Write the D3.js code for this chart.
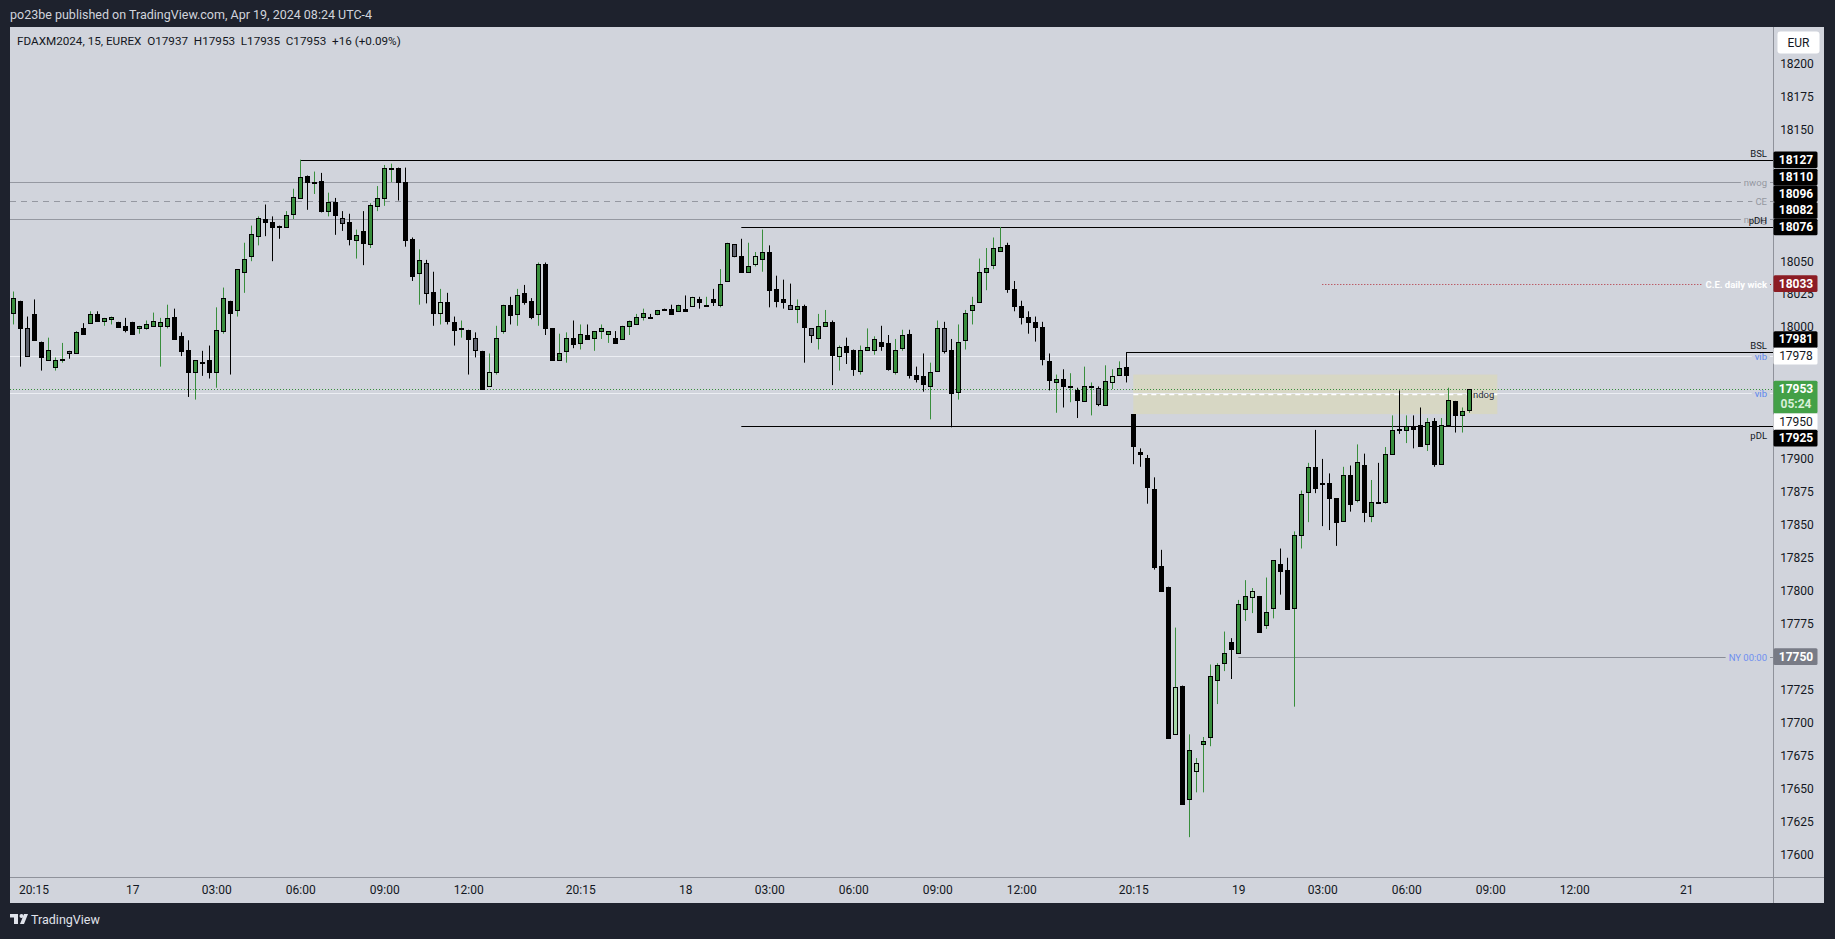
<!DOCTYPE html>
<html><head><meta charset="utf-8">
<script src="https://cdn.jsdelivr.net/npm/d3@7"></script>
<style>
html,body{margin:0;padding:0;background:#1e222d;overflow:hidden;}
svg{display:block;font-family:Roboto,"Noto Sans",sans-serif;}
</style></head><body>
<svg id="c" width="1835" height="939"></svg>
<script>
// ---------------- DATA ----------------
const opens=[18011,18020,17999,18010,17989,17975,17970,17976,17982,17980,
17999,18003,18010,18005,18006,18004,18001,18004,17999,17999,
18001,18001,18001,18008,17993,17983,17966,17973.5,17975,17966,
17997,18020,18013,18042,18054,18069,18082,18080,18077,18076,
18086,18098,18115,18110,18111,18088,18095,18083,18080,18066,
18073,18063,18092,18098,18120,18121,18110,18067,18041,18049,
18027,18011,18019,18004,17999,17998,17992,17982,17955,17966,
17997,18017,18010,18026,18020,18010,18048,17999,17975,17982,
17992,17988,17994,17992,17997,17995,17992,17991,18001,18002,
18008,18008,18010,18014,18014,18012,18014,18016,18021,18017,
18021,18017,18035,18063,18054,18042,18048,18052,18057,18029,
18021,18017,18014,18016,17999,17992,18001,18004,17978,17986,
17983,17967,17983,17983,17989,17988,17966,17984,17995,17964,
17963,17955,17967,17999,17983,17951,17990,18013,18019,18042,
18047,18058,18062,18029,18016,18008,18004,18000,17974,17958,
17961,17955,17952,17944,17955,17954,17941,17958,17964,17970,
17934,17905,17901,17877,17819,17803,17691,17728,17642,17663,
17684,17689,17732,17745,17761,17753,17786,17795,17796,17774,
17787,17820,17816,17787,17842,17875,17894,17882,17882,17870,
17853,17888,17869,17895,17857,17867.5,17867,17904,17923,17922,
17925,17926,17911,17929,17896,17926,17944,17933,17937];
const highs=[18027,18020,18008,18021,17989,17992,17977,17988,17982,17997,
18003,18012,18012,18007,18008,18004,18007,18004,18001,18005,
18011,18007,18017,18014,17996,17990,17975,17982,17986,18015,
18030,18020,18044,18064,18077,18084,18093,18084,18077,18088,
18105,18127,18115,18118,18117,18102,18098,18088,18086,18074,
18088,18094,18107,18123,18124,18121,18121,18068,18059,18051,
18042,18029,18026,18008,18005,17998,17996,17982,17980,18001,
18017,18023,18029,18032,18022,18049,18049,17999,17995,17996,
18005,18002,18002,17997,18002,17997,17997,18001,18005,18010,
18014,18010,18013,18014,18017,18017,18024,18023,18023,18023,
18029,18044,18064,18063,18067,18064,18057,18074,18062,18039,
18036,18033,18021,18017,17999,18010,18013,18005,17986,17992,
17983,17986,17999,17993,18001,17994,17991,17998,17998,17970,
17980,17973,18005,18004,17991,18002,18013,18023,18052,18060,
18068,18076,18064,18035,18020,18012,18008,18004,17980,17964,
17968,17965,17954,17970,17958,17955,17971,17968,17974,17981,
17934,17908,17903,17886,17831,17803,17772,17728,17691,17673,
17689,17744,17745,17769,17764,17793,17808,17802,17796,17810,
17823,17832,17825,17845,17876,17897,17922,17900,17889,17870,
17894,17895,17911,17904,17884,17897,17909,17933,17952,17933,
17933,17939,17931,17931,17931,17954,17944,17939,17953];
const lows=[18002,17970,17978,17990,17967,17975,17967,17973,17976,17980,
17995,18003,18005,18001,18002,18000,17996,17995,17995,17998,
18001,17970,17999,17991,17978,17947,17945,17963,17961,17954,
17995,17964,18008,18026,18050,18062,18069,18050,18067,18076,
18082,18098,18089,18101,18087,18084,18070,18073,18062,18052,
18047,18060,18088,18092,18110,18096,18061,18035,18017,18018,
18001,18002,18002,17986,17992,17964,17977,17953,17955,17964,
17995,18002,18001,18017,18006,18001,17994,17975,17975,17973,
17984,17983,17991,17982,17991,17988,17988,17991,17994,18002,
18005,18007,18009,18013,18010,18012,18012,18016,18014,18016,
18016,18015,18035,18053,18042,18042,18046,18042,18015,18015,
18014,18014,18003,17973,17988,17983,18001,17956,17967,17972,
17963,17964,17983,17979,17982,17967,17964,17982,17961,17958,
17951,17930,17967,17980,17924,17945,17983,18002,18019,18028,
18044,18058,18026,18012,18002,17995,17989,17971,17952,17935,
17939,17943,17931,17944,17933,17940,17941,17953,17964,17958,
17896,17894,17866,17816,17800,17688,17691,17638,17613,17647,
17647,17682,17714,17739,17733,17753,17777,17783,17768,17771,
17779,17797,17786,17712,17832,17852,17874,17849,17846,17834,
17853,17860,17867,17852,17852,17867,17866,17904,17919,17912,
17908,17910,17906,17894,17896,17926,17920,17920,17935];
const closes=[18022,17999,17978,17990,17977,17983,17975,17976,17980,17996,
17995,18010,18005,18007,18008,18000,17998,17995,18001,18002,
18005,18004,18007,17991,17982,17966,17975,17973,17966,17998,
18022,18011,18044,18052,18071,18083,18080,18076,18076,18085,
18099,18114,18110,18110,18088,18095,18085,18079,18067,18070,
18064,18093,18098,18121,18121,18110,18066,18039,18051,18026,
18011,18019,18005,17998,17999,17991,17983,17953,17966,17992,
18017,18009,18024,18019,18008,18048,17999,17975,17980,17992,
17987,17995,17991,17997,17999,17997,17988,18001,18005,18008,
18011,18007,18013,18013,18010,18017,18012,18023,18019,18017,
18019,18033,18064,18054,18042,18046,18054,18057,18028,18020,
18019,18014,18016,18000,17994,18001,18004,17979,17985,17981,
17968,17983,17985,17991,17986,17968,17983,17994,17964,17961,
17957,17966,17999,17982,17950,17989,18011,18017,18042,18045,
18060,18061,18029,18016,18008,18004,18000,17976,17960,17961,
17955,17955,17945,17955,17955,17942,17959,17963,17969,17964,
17910,17904,17879,17818,17800,17688,17727,17638,17679,17669,
17686,17735,17744,17753,17756,17790,17796,17800,17769,17784,
17823,17815,17786,17842,17873,17894,17878,17881,17870,17852,
17888,17866,17898,17860,17867,17867,17904,17922,17922,17925,
17923,17910,17928,17896,17926,17945,17933,17936,17953];
const grayBars=[2,8,38,47,59,66,103,111,114,133,155];
const lightBars=[61,68,97,106,118,157,166,169,177];

const timeTickIdx=[2,17,29,41,53,65,81,96,108,120,132,144,160,175,187,199,211,223,239];
const timeTickLabels=["20:15","17","03:00","06:00","09:00","12:00","20:15","18","03:00","06:00","09:00","12:00","20:15","19","03:00","06:00","09:00","12:00","21"];
const priceTicks=[17600,17625,17650,17675,17700,17725,17750,17775,17800,17825,17850,17875,17900,17925,17950,17975,18000,18025,18050,18075,18100,18125,18150,18175,18200];

const levelPrice=[18127,18110,18096,18082,18076,18033,17981,17978,17950,17925,17750];
const levelText=["BSL","nwog","CE","nwog","pDH","C.E. daily wick","BSL","vib","vib","pDL","NY 00:00"];
const levelFrom=[41,null,null,null,104,187,159,null,null,104,175];
const levelKind=["liq","ref","refDash","ref","dayHigh","ce","liq","vib","vib","dayLow","ny"];

const gapTop=17964, gapBottom=17934, gapFrom=160, gapTo=212, gapText="ndog";
const countdown="05:24";
const headerText="po23be published on TradingView.com, Apr 19, 2024 08:24 UTC-4";
const legendText="FDAXM2024, 15, EUREX  O17937  H17953  L17935  C17953  +16 (+0.09%)";

// ---------------- LAYOUT ----------------
const W=1835,H=939;
const P={l:10,t:27,r:1824,b:903,ax:1773,tb:877};
const svg=d3.select("#c");
svg.append("rect").attr("width",W).attr("height",H).attr("fill","#1e222d");
svg.append("rect").attr("x",P.l).attr("y",P.t).attr("width",P.r-P.l).attr("height",P.b-P.t).attr("fill","#d1d4dc");

const n=closes.length;
const x=d3.scaleLinear().domain([0,n-1]).range([13.3,13.3+7*(n-1)]);
const y=d3.scaleLinear().domain([17600,18150]).range([854.3,129.4]);

svg.append("defs").append("clipPath").attr("id","plot").append("rect")
  .attr("x",P.l).attr("y",P.t).attr("width",P.ax-P.l).attr("height",P.tb-P.t);
const plot=svg.append("g").attr("clip-path","url(#plot)");

const GREEN="#388e3c", LIGHT="#a5d6a7", GRAY="#5d606b";
const kindStyle={
  liq:{stroke:"#000",dash:null,pos:"above",color:"#131722",box:"#000",boxText:"#fff"},
  ref:{stroke:"#9598a1",dash:null,pos:"inline",color:"#9598a1",box:"#000",boxText:"#fff"},
  refDash:{stroke:"#9598a1",dash:"6,5",pos:"inline",color:"#9598a1",box:"#000",boxText:"#fff"},
  dayHigh:{stroke:"#000",dash:null,pos:"above",color:"#131722",box:"#000",boxText:"#fff"},
  dayLow:{stroke:"#000",dash:null,pos:"below",color:"#131722",box:"#000",boxText:"#fff"},
  ce:{stroke:"#b22833",dash:"1,2",pos:"inline",color:"#ffffff",box:"#8c1c24",boxText:"#fff",bold:true},
  vib:{stroke:"#eceef3",dash:null,pos:"inline",color:"#5b86ee",box:"#ffffff",boxText:"#131722",normal:true},
  ny:{stroke:"#8a8d96",dash:null,pos:"inline",color:"#6f8ff0",box:"#787b86",boxText:"#fff"}
};

// gap zone (behind candles)
plot.append("rect").attr("x",x(gapFrom)).attr("width",x(gapTo)-x(gapFrom))
  .attr("y",y(gapTop)).attr("height",y(gapBottom)-y(gapTop))
  .attr("fill","rgba(255,235,59,0.15)");

// level lines
const lblX=1767;
const lineLayer=plot.append("g");
const textLayer=svg.append("g");
levelPrice.forEach((p,i)=>{
  const st=kindStyle[levelKind[i]];
  const yy=Math.round(y(p))+0.5;
  const x0=levelFrom[i]==null?P.l:x(levelFrom[i]);
  const t=textLayer.append("text").text(levelText[i]).attr("x",lblX).attr("text-anchor","end")
    .attr("font-size","9.5px").attr("font-weight",st.bold?"700":"400").attr("fill",st.color);
  if(st.pos==="above"){t.attr("y",yy-4);}
  else if(st.pos==="below"){t.attr("y",yy+12);}
  else {t.attr("y",yy).attr("dominant-baseline","central");}
  const line=(a,b)=>lineLayer.append("line").attr("x1",a).attr("x2",b).attr("y1",yy).attr("y2",yy)
    .attr("stroke",st.stroke).attr("stroke-width",1).attr("stroke-dasharray",st.dash);
  if(st.pos==="inline"){
    const w=t.node().getComputedTextLength();
    line(x0,lblX-w-3); line(lblX+3,P.ax);
  } else line(x0,P.ax);
});
// gap CE dashed white
const gce=Math.round(y((gapTop+gapBottom)/2))+0.5;
lineLayer.append("line").attr("x1",x(gapFrom)).attr("x2",x(gapTo))
  .attr("y1",gce).attr("y2",gce)
  .attr("stroke","#ffffff").attr("stroke-width",1.5).attr("stroke-dasharray","5,4");
plot.append("text").text(gapText).attr("x",x(gapTo)-3).attr("text-anchor","end")
  .attr("y",y((gapTop+gapBottom)/2)).attr("dominant-baseline","central")
  .attr("font-size","9.5px").attr("fill","#2a2e39");
// current price dotted line
const last=closes[n-1];
lineLayer.append("line").attr("x1",P.l).attr("x2",P.ax)
  .attr("y1",Math.round(y(last))+0.5).attr("y2",Math.round(y(last))+0.5)
  .attr("stroke",GREEN).attr("stroke-width",1).attr("stroke-dasharray","1,2");

// candles
const cg=plot.append("g");
d3.range(n).forEach(i=>{
  const o=opens[i],h=highs[i],l=lows[i],c=closes[i];
  const up=c>=o;
  const cx=Math.round(x(i));
  const isGray=grayBars.includes(i), isLight=lightBars.includes(i);
  cg.append("line").attr("x1",cx+0.5).attr("x2",cx+0.5).attr("y1",y(h)).attr("y2",y(l))
    .attr("stroke",up?GREEN:"#000").attr("stroke-width",1);
  const top=Math.round(y(Math.max(o,c))), bot=Math.round(y(Math.min(o,c)));
  const hgt=Math.max(bot-top,1);
  cg.append("rect").attr("x",cx-2).attr("width",5).attr("y",top).attr("height",hgt+1).attr("fill","#000");
  let fill=null;
  if(isGray) fill=GRAY; else if(isLight) fill=LIGHT; else if(up) fill=GREEN;
  if(fill && hgt>=2){
    cg.append("rect").attr("x",cx-1).attr("width",3).attr("y",top+1).attr("height",hgt-1).attr("fill",fill);
  }
});

// axes separators
svg.append("line").attr("x1",P.ax+0.5).attr("x2",P.ax+0.5).attr("y1",P.t).attr("y2",P.b).attr("stroke","#8f929b");
svg.append("line").attr("x1",P.l).attr("x2",P.r).attr("y1",P.tb+0.5).attr("y2",P.tb+0.5).attr("stroke","#8f929b");

// axis label boxes layout (current price fixed, others pushed away from it)
const BH=16.6, CH=32.5;
const boxes=levelPrice.map((p,i)=>({p,y:y(p),kind:levelKind[i],h:BH}));
const cur={p:closes[n-1],y:y(closes[n-1])};
const curTop=cur.y-8.3;
const above=boxes.filter(b=>b.p>cur.p).sort((a,b)=>b.y-a.y);
const below=boxes.filter(b=>b.p<=cur.p).sort((a,b)=>a.y-b.y);
let limitTop=curTop;
above.forEach(b=>{ let c=b.y; if(c+b.h/2>limitTop) c=limitTop-b.h/2; b.cy=c; limitTop=c-b.h/2;});
let limitBot=curTop+CH;
below.forEach(b=>{ let c=b.y; if(c-b.h/2<limitBot) c=limitBot+b.h/2; b.cy=c; limitBot=c+b.h/2;});
const covers=boxes.map(b=>[b.cy-b.h/2,b.cy+b.h/2]).concat([[curTop,curTop+CH]]);

// price axis
const ya=svg.append("g").attr("transform",`translate(${P.ax},0)`)
  .call(d3.axisRight(y).tickValues(priceTicks).tickSize(0).tickFormat(d3.format("d")));
ya.select(".domain").remove();
ya.selectAll("text").attr("x",24).attr("text-anchor","middle").attr("font-size","12px")
  .attr("fill","#131722").attr("font-family","Roboto,'Noto Sans',sans-serif");
ya.selectAll(".tick").filter(d=>{
  const ty=y(d);
  if(ty<P.t+30||ty>P.tb-5) return true;
  return covers.some(([a,b])=>ty>a&&ty<b);
}).remove();

// time axis
const xa=svg.append("g").attr("transform",`translate(0,${P.tb})`)
  .call(d3.axisBottom(x).tickValues(timeTickIdx).tickSize(0).tickFormat((d,i)=>timeTickLabels[i]));
xa.select(".domain").remove();
xa.selectAll("text").attr("y",13).attr("dy","0").attr("dominant-baseline","central").attr("font-size","12px")
  .attr("fill","#131722").attr("font-family","Roboto,'Noto Sans',sans-serif");
xa.selectAll(".tick").each(function(d){
  const px=x(d);
  if(px<P.l+24) d3.select(this).attr("transform",`translate(${P.l+24},0)`);
});

const bl=svg.append("g");
boxes.forEach(b=>{
  const st=kindStyle[b.kind];
  bl.append("rect").attr("x",P.ax+0.5).attr("y",b.cy-b.h/2).attr("width",44).attr("height",b.h).attr("rx",1.5).attr("fill",st.box);
  bl.append("text").text(d3.format("d")(b.p)).attr("x",P.ax+23).attr("y",b.cy).attr("dominant-baseline","central")
    .attr("text-anchor","middle").attr("font-size","12px").attr("font-weight",st.normal?"400":"700").attr("fill",st.boxText);
});
bl.append("rect").attr("x",P.ax+0.5).attr("y",curTop).attr("width",44).attr("height",CH).attr("rx",1.5).attr("fill","#43a047");
bl.append("text").text(d3.format("d")(cur.p)).attr("x",P.ax+23).attr("y",cur.y).attr("dominant-baseline","central")
  .attr("text-anchor","middle").attr("font-size","12px").attr("font-weight","700").attr("fill","#fff");
bl.append("text").text(countdown).attr("x",P.ax+23).attr("y",cur.y+14.5).attr("dominant-baseline","central")
  .attr("text-anchor","middle").attr("font-size","12px").attr("font-weight","700").attr("fill","#d8efd9");

// EUR box
svg.append("rect").attr("x",1777.5).attr("y",31.5).attr("width",42).attr("height",22).attr("rx",3).attr("fill","#fff");
svg.append("text").text("EUR").attr("x",1798.5).attr("y",43).attr("dominant-baseline","central").attr("text-anchor","middle")
  .attr("font-size","12px").attr("fill","#131722");

// header and legend
svg.append("text").text(headerText).attr("x",10).attr("y",14).attr("dominant-baseline","central")
  .attr("font-size","12.5px").attr("fill","#d1d4dc");
svg.append("text").text(legendText).attr("x",17).attr("y",41).attr("dominant-baseline","central")
  .attr("font-size","11.7px").attr("fill","#131722").style("white-space","pre");

// footer logo
const lg=svg.append("g").attr("fill","#e0e3eb");
lg.append("rect").attr("x",10).attr("y",914).attr("width",8).attr("height",3.5);
lg.append("rect").attr("x",14).attr("y",914).attr("width",4).attr("height",10);
lg.append("circle").attr("cx",21.5).attr("cy",916).attr("r",2);
lg.append("path").attr("d","M24 914 L28 914 L24 924 L20 924 Z");
svg.append("text").text("TradingView").attr("x",31).attr("y",919.5).attr("dominant-baseline","central")
  .attr("font-size","12.5px").attr("fill","#e0e3eb");
</script>
</body></html>
